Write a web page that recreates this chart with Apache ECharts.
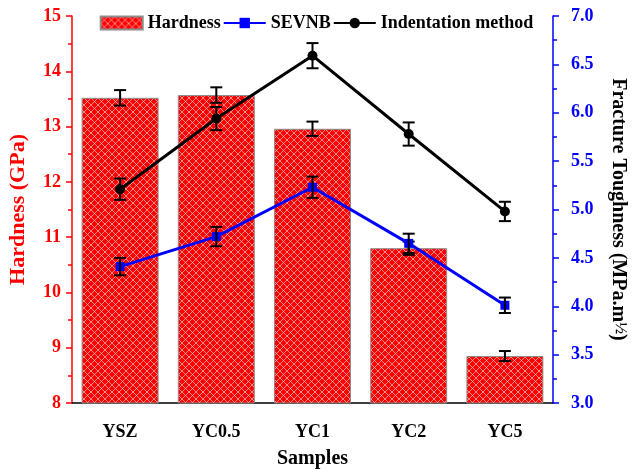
<!DOCTYPE html>
<html>
<head>
<meta charset="utf-8">
<script src="https://cdn.jsdelivr.net/npm/echarts@6/dist/echarts.min.js"></script>
<style>
  html, body { margin: 0; padding: 0; background: #fff; }
  #chart { width: 633px; height: 470px; }
</style>
</head>
<body>
<div id="chart"></div>
<script>
// Sample names and measured values
const categories = ['YSZ', 'YC0.5', 'YC1', 'YC2', 'YC5'];
const hardness = [13.52, 13.57, 12.96, 10.80, 8.85];       // GPa
const hardnessErr = [0.14, 0.14, 0.13, 0.12, 0.09];
const sevnb = [4.41, 4.72, 5.23, 4.65, 4.01];               // MPa.m^1/2
const sevnbErr = [0.09, 0.10, 0.11, 0.10, 0.08];
const indentation = [5.21, 5.94, 6.59, 5.78, 4.98];         // MPa.m^1/2
const indentationErr = [0.11, 0.12, 0.13, 0.12, 0.10];

const FONT = '"Liberation Serif", "Times New Roman", serif';

// Red fill with a light cross-hatch for the hardness bars
function hatchPattern() {
  const s = 7;
  const c = document.createElement('canvas');
  c.width = s; c.height = s;
  const g = c.getContext('2d');
  g.fillStyle = '#ff0000';
  g.fillRect(0, 0, s, s);
  g.strokeStyle = 'rgba(255,215,215,0.8)';
  g.lineWidth = 0.8;
  g.beginPath();
  g.moveTo(0, 0); g.lineTo(s, s);
  g.moveTo(0, s); g.lineTo(s, 0);
  g.stroke();
  return c;
}

function errData(vals, errs) {
  return vals.map((v, i) => [i, v - errs[i], v + errs[i]]);
}

function errorBarRender(params, api) {
  const x = api.value(0);
  const top = api.coord([x, api.value(2)]);
  const bot = api.coord([x, api.value(1)]);
  const hw = 6;
  const style = { stroke: '#000', lineWidth: 2 };
  return {
    type: 'group',
    children: [
      { type: 'line', shape: { x1: top[0], y1: top[1], x2: bot[0], y2: bot[1] }, style },
      { type: 'line', shape: { x1: top[0] - hw, y1: top[1], x2: top[0] + hw, y2: top[1] }, style },
      { type: 'line', shape: { x1: bot[0] - hw, y1: bot[1], x2: bot[0] + hw, y2: bot[1] }, style }
    ]
  };
}

const chart = echarts.init(document.getElementById('chart'), null, { renderer: 'canvas' });
const pattern = { image: hatchPattern(), repeat: 'repeat' };

chart.setOption({
  animation: false,
  backgroundColor: '#fff',
  grid: { left: 72, right: 80, top: 16, bottom: 67, outerBoundsMode: 'none', containLabel: false },
  legend: {
    top: 9,
    left: 'center',
    itemWidth: 42,
    itemHeight: 13,
    itemGap: 2,
    data: [
      { name: 'Hardness', icon: 'rect' },
      { name: 'SEVNB' },
      { name: 'Indentation method' }
    ],
    textStyle: { fontFamily: FONT, fontWeight: 'bold', fontSize: 18, color: '#000' }
  },
  xAxis: [
    {
      type: 'category',
      data: categories,
      name: 'Samples',
      nameLocation: 'middle',
      nameGap: 46,
      nameTextStyle: { fontFamily: FONT, fontWeight: 'bold', fontSize: 20, color: '#000' },
      axisLine: { lineStyle: { color: '#000', width: 1.5 } },
      axisTick: { alignWithLabel: true, length: 7, lineStyle: { color: '#000', width: 1.5 } },
      axisLabel: { margin: 20, fontFamily: FONT, fontWeight: 'bold', fontSize: 18, color: '#000' },
      splitLine: { show: false }
    },
    {
      // boundary ticks between samples
      type: 'category',
      data: categories,
      position: 'bottom',
      axisLine: { show: false },
      axisTick: { length: 4, lineStyle: { color: '#000', width: 1.5 } },
      axisLabel: { show: false },
      splitLine: { show: false }
    }
  ],
  yAxis: [
    {
      type: 'value',
      min: 8, max: 15, interval: 1,
      name: 'Hardness (GPa)',
      nameLocation: 'middle',
      nameGap: 43,
      nameTextStyle: { fontFamily: FONT, fontWeight: 'bold', fontSize: 22, color: '#ff0000' },
      axisLine: { show: true, lineStyle: { color: '#ff0000', width: 1.5 } },
      axisTick: { show: true, length: 6, lineStyle: { color: '#ff0000', width: 1.5 } },
      minorTick: { show: true, splitNumber: 2, length: 4, lineStyle: { color: '#ff0000', width: 1.5 } },
      axisLabel: { margin: 11, fontFamily: FONT, fontWeight: 'bold', fontSize: 18, color: '#ff0000' },
      splitLine: { show: false }
    },
    {
      type: 'value',
      position: 'right',
      min: 3, max: 7, interval: 0.5,
      name: '{t|Fracture Toughness (MPa.m}{s|½}{t|)}',
      nameLocation: 'middle',
      nameRotate: -90,
      nameGap: 55,
      nameTextStyle: {
        rich: {
          t: { fontFamily: FONT, fontWeight: 'bold', fontSize: 20, color: '#000' },
          s: { fontFamily: FONT, fontWeight: 'bold', fontSize: 16, color: '#000', verticalAlign: 'top' }
        }
      },
      axisLine: { show: true, lineStyle: { color: '#0000ff', width: 1.5 } },
      axisTick: { show: true, length: 6, lineStyle: { color: '#0000ff', width: 1.5 } },
      minorTick: { show: true, splitNumber: 2, length: 4, lineStyle: { color: '#0000ff', width: 1.5 } },
      axisLabel: {
        margin: 18, fontFamily: FONT, fontWeight: 'bold', fontSize: 18, color: '#0000ff',
        formatter: v => v.toFixed(1)
      },
      splitLine: { show: false }
    }
  ],
  series: [
    {
      name: 'Hardness',
      type: 'bar',
      xAxisIndex: 0, yAxisIndex: 0,
      barWidth: '80%',
      data: hardness,
      itemStyle: { color: pattern, borderColor: '#8c8c8c', borderWidth: 1 },
      z: 2
    },
    {
      type: 'custom',
      xAxisIndex: 0, yAxisIndex: 0,
      renderItem: errorBarRender,
      data: errData(hardness, hardnessErr),
      encode: { x: 0, y: [1, 2] },
      z: 3
    },
    {
      name: 'SEVNB',
      type: 'line',
      xAxisIndex: 0, yAxisIndex: 1,
      data: sevnb,
      symbol: 'rect',
      symbolSize: 9,
      lineStyle: { color: '#0000ff', width: 3 },
      itemStyle: { color: '#0000ff' },
      z: 5
    },
    {
      type: 'custom',
      xAxisIndex: 0, yAxisIndex: 1,
      renderItem: errorBarRender,
      data: errData(sevnb, sevnbErr),
      encode: { x: 0, y: [1, 2] },
      z: 6
    },
    {
      name: 'Indentation method',
      type: 'line',
      xAxisIndex: 0, yAxisIndex: 1,
      data: indentation,
      symbol: 'circle',
      symbolSize: 10,
      lineStyle: { color: '#000', width: 3 },
      itemStyle: { color: '#000' },
      z: 5
    },
    {
      type: 'custom',
      xAxisIndex: 0, yAxisIndex: 1,
      renderItem: errorBarRender,
      data: errData(indentation, indentationErr),
      encode: { x: 0, y: [1, 2] },
      z: 6
    }
  ]
});
</script>
</body>
</html>
